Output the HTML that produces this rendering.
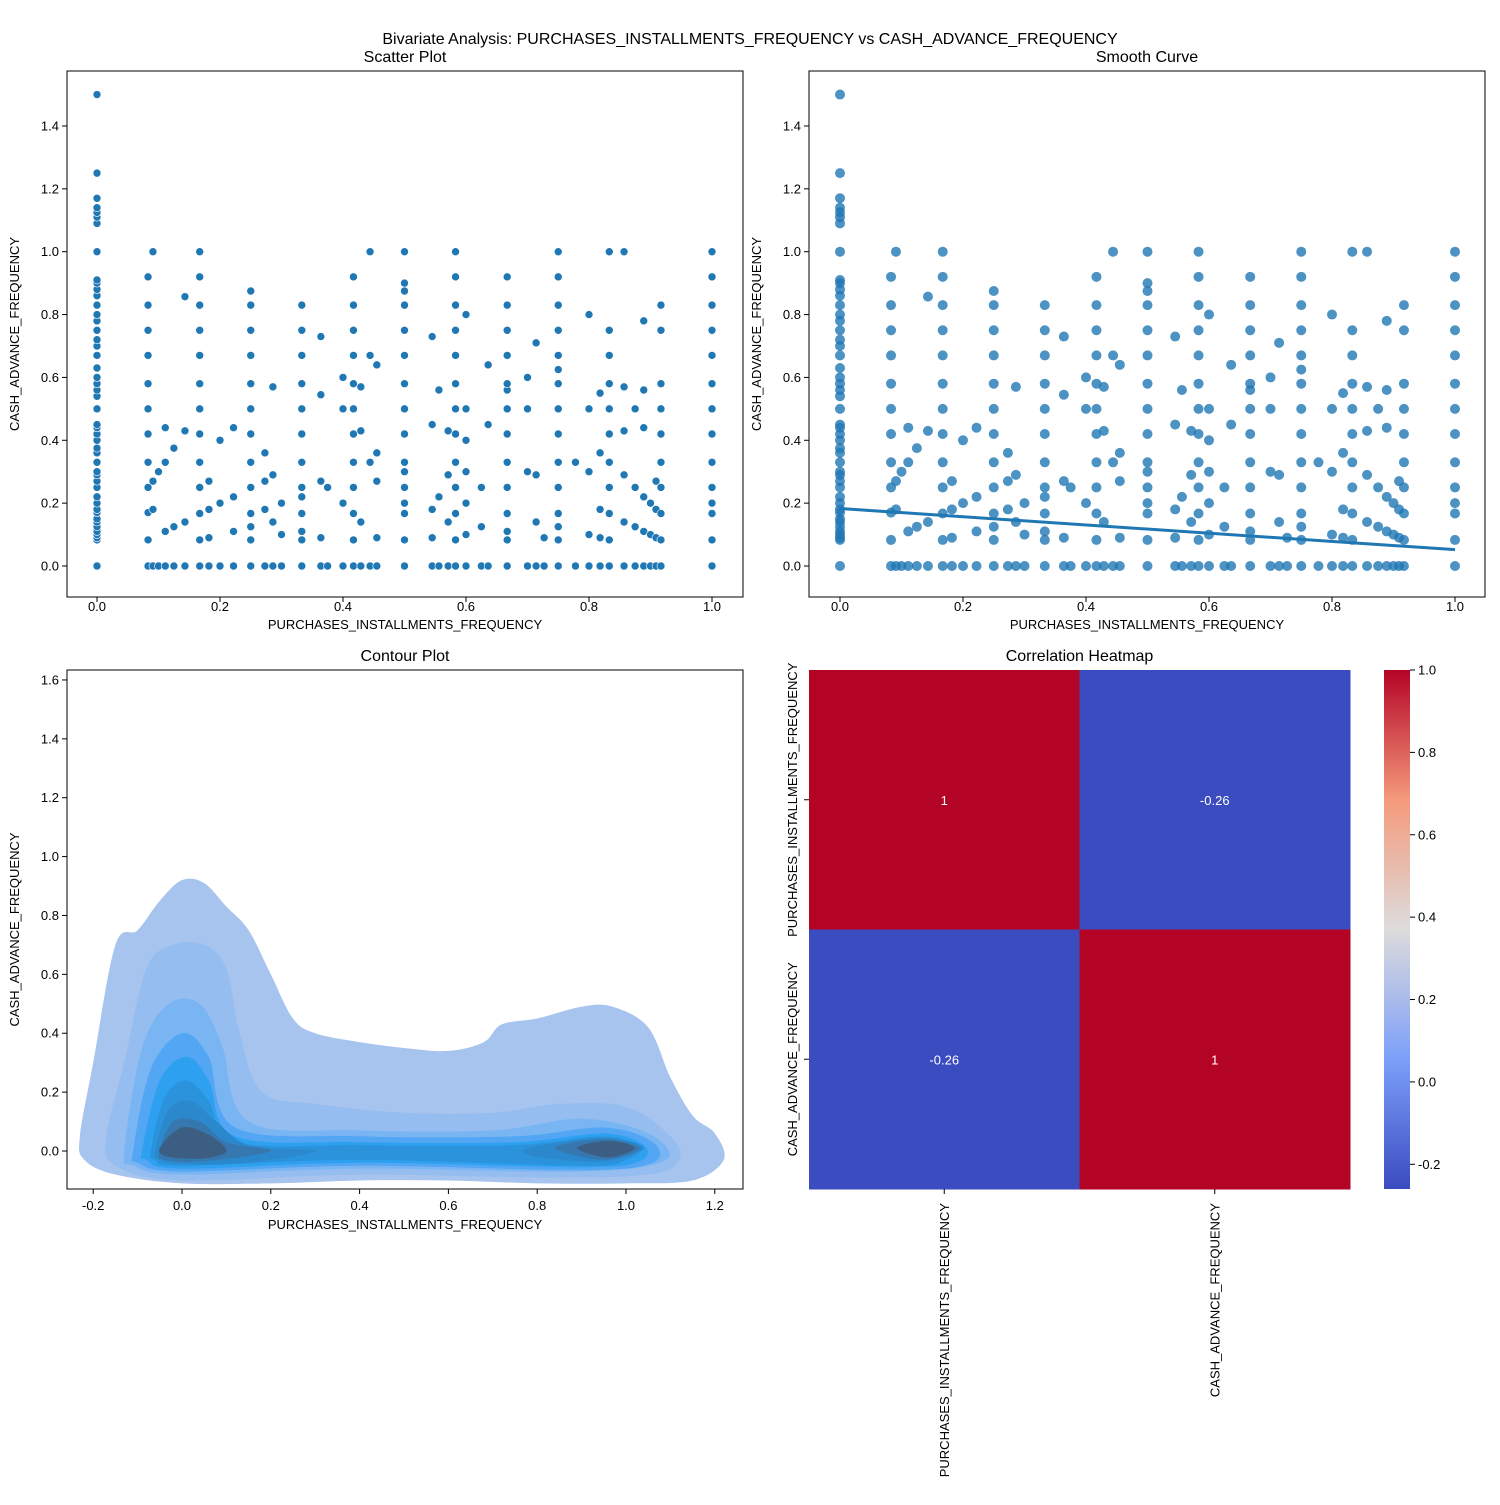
<!DOCTYPE html>
<html><head><meta charset="utf-8"><style>
body{margin:0;background:#fff}
svg text{font-family:"Liberation Sans","DejaVu Sans",sans-serif;fill:#000}
</style></head><body>
<svg id="chart" width="1500" height="1500" viewBox="0 0 1500 1500" xmlns="http://www.w3.org/2000/svg">
<rect width="1500" height="1500" fill="#fff"/>
<text x="750" y="44" font-size="16" text-anchor="middle">Bivariate Analysis: PURCHASES_INSTALLMENTS_FREQUENCY vs CASH_ADVANCE_FREQUENCY</text>
<g id="p1"></g>
<g id="p2"></g>
<g id="p3"></g>
<g id="p4"></g>
</svg>
<script>
const colX=[0,0.083,0.091,0.1,0.111,0.125,0.143,0.167,0.182,0.2,0.222,0.25,0.273,0.286,0.3,0.333,0.364,0.375,0.4,0.417,0.429,0.444,0.455,0.5,0.545,0.556,0.571,0.583,0.6,0.625,0.636,0.667,0.7,0.714,0.727,0.75,0.778,0.8,0.818,0.833,0.857,0.875,0.889,0.9,0.909,0.917,1.0];
const colY=[
[0,0.083,0.09,0.1,0.11,0.125,0.14,0.15,0.17,0.18,0.2,0.22,0.25,0.27,0.29,0.3,0.33,0.36,0.375,0.4,0.42,0.44,0.45,0.5,0.54,0.56,0.58,0.6,0.63,0.67,0.7,0.72,0.75,0.78,0.8,0.83,0.86,0.88,0.9,0.91,1.0,1.09,1.11,1.125,1.14,1.17,1.25,1.5],
[0,0.083,0.17,0.25,0.33,0.42,0.5,0.58,0.67,0.75,0.83,0.92],
[0,0.18,0.27,1.0],[0,0.3],[0,0.11,0.33,0.44],[0,0.125,0.375],[0,0.14,0.43,0.857],
[0,0.083,0.167,0.25,0.33,0.42,0.5,0.58,0.67,0.75,0.83,0.92,1.0],
[0,0.09,0.18,0.27],[0,0.2,0.4],[0,0.11,0.22,0.44],
[0,0.083,0.125,0.167,0.25,0.33,0.42,0.5,0.58,0.67,0.75,0.83,0.875],
[0,0.18,0.27,0.36],[0,0.14,0.29,0.57],[0,0.1,0.2],
[0,0.083,0.11,0.167,0.22,0.25,0.33,0.42,0.5,0.58,0.67,0.75,0.83],
[0,0.09,0.27,0.545,0.73],[0,0.25],[0,0.2,0.5,0.6],
[0,0.083,0.167,0.25,0.33,0.42,0.5,0.58,0.67,0.75,0.83,0.92],
[0,0.14,0.43,0.57],[0,0.33,0.67,1.0],[0,0.09,0.27,0.36,0.64],
[0,0.083,0.167,0.2,0.25,0.3,0.33,0.42,0.5,0.58,0.67,0.75,0.83,0.875,0.9,1.0],
[0,0.09,0.18,0.45,0.73],[0,0.22,0.56],[0,0.14,0.29,0.43],
[0,0.083,0.167,0.25,0.33,0.42,0.5,0.58,0.67,0.75,0.83,0.92,1.0],
[0,0.1,0.2,0.3,0.4,0.5,0.8],[0,0.125,0.25],[0,0.45,0.64],
[0,0.083,0.11,0.167,0.25,0.33,0.42,0.5,0.56,0.58,0.67,0.75,0.83,0.92],
[0,0.3,0.5,0.6],[0,0.14,0.29,0.71],[0,0.09],
[0,0.083,0.125,0.167,0.25,0.33,0.42,0.5,0.58,0.625,0.67,0.75,0.83,0.92,1.0],
[0,0.33],[0,0.1,0.3,0.5,0.8],[0,0.09,0.18,0.36,0.55],
[0,0.083,0.167,0.25,0.33,0.42,0.5,0.58,0.67,0.75,1.0],
[0,0.14,0.29,0.43,0.57,1.0],[0,0.125,0.25,0.5],[0,0.11,0.22,0.44,0.56,0.78],
[0,0.1,0.2],[0,0.09,0.18,0.27],
[0,0.083,0.167,0.25,0.33,0.42,0.5,0.58,0.75,0.83],
[0,0.083,0.167,0.2,0.25,0.33,0.42,0.5,0.58,0.67,0.75,0.83,0.92,1.0]];
const regX=[0,1];
const regY=[0.183,0.052];
const scatterXTicks=[0,0.2,0.4,0.6,0.8,1.0];
const scatterYTicks=[0,0.2,0.4,0.6,0.8,1.0,1.2,1.4];
const contourXTicks=[-0.2,0,0.2,0.4,0.6,0.8,1.0,1.2];
const contourYTicks=[0,0.2,0.4,0.6,0.8,1.0,1.2,1.4,1.6];
const contourColors=["#a6c4ee","#95bdf0","#7ab5f3","#52a6f3","#2ea0f0","#2b93dc","#2c88cc","#3577ae","#3c5e82"];
const contourLevels=[
[[[-0.23,0.05],[-0.2,0.3],[-0.15,0.7],[-0.1,0.75],[-0.05,0.85],[0,0.92],[0.05,0.91],[0.1,0.83],[0.15,0.75],[0.2,0.6],[0.25,0.45],[0.3,0.4],[0.4,0.37],[0.5,0.35],[0.6,0.34],[0.68,0.37],[0.72,0.43],[0.8,0.45],[0.9,0.49],[0.97,0.49],[1.05,0.42],[1.1,0.25],[1.15,0.12],[1.2,0.06],[1.22,-0.03],[1.15,-0.1],[1.0,-0.11],[0.8,-0.11],[0.6,-0.1],[0.4,-0.1],[0.2,-0.11],[0,-0.11],[-0.15,-0.08],[-0.22,-0.03]]],
[[[-0.17,0.05],[-0.13,0.3],[-0.08,0.62],[-0.02,0.7],[0.05,0.7],[0.1,0.62],[0.13,0.4],[0.18,0.2],[0.3,0.16],[0.5,0.13],[0.7,0.13],[0.85,0.16],[1.0,0.15],[1.1,0.05],[1.12,-0.03],[1.05,-0.08],[0.8,-0.09],[0.4,-0.08],[0,-0.1],[-0.15,-0.05]]],
[[[-0.13,0.0],[-0.09,0.35],[-0.03,0.5],[0.04,0.5],[0.09,0.36],[0.15,0.1],[0.4,0.07],[0.7,0.07],[0.9,0.11],[1.05,0.06],[1.09,-0.03],[0.9,-0.07],[0.4,-0.06],[0,-0.08],[-0.11,-0.05]]],
[[[-0.11,0.0],[-0.07,0.28],[0,0.4],[0.06,0.32],[0.12,0.08],[0.4,0.05],[0.75,0.05],[0.95,0.08],[1.06,0.03],[1.06,-0.04],[0.9,-0.065],[0.4,-0.05],[0,-0.07],[-0.1,-0.04]]],
[[[-0.09,0.0],[-0.05,0.24],[0.01,0.32],[0.06,0.24],[0.12,0.05],[0.4,0.03],[0.75,0.03],[0.95,0.06],[1.04,0.02],[1.03,-0.035],[0.9,-0.055],[0.4,-0.04],[0,-0.06],[-0.08,-0.03]]],
[[[-0.07,0.0],[-0.04,0.18],[0.01,0.24],[0.06,0.17],[0.12,0.03],[0.4,0.02],[0.75,0.02],[0.95,0.05],[1.03,0.01],[1.0,-0.03],[0.9,-0.05],[0.4,-0.03],[0,-0.05],[-0.06,-0.03]]],
[[[-0.06,0.0],[-0.03,0.14],[0.02,0.17],[0.07,0.11],[0.15,0.02],[0.3,0.0],[0.15,-0.04],[0.0,-0.045],[-0.05,-0.03]],[[0.78,0.01],[0.95,0.045],[1.04,0.01],[0.95,-0.035],[0.8,-0.02]]],
[[[-0.05,0.0],[-0.02,0.1],[0.04,0.1],[0.1,0.03],[0.2,0.0],[0.05,-0.035],[-0.04,-0.03]],[[0.84,0.01],[0.95,0.04],[1.03,0.01],[0.95,-0.03]]],
[[[-0.05,0.01],[0,0.08],[0.06,0.055],[0.1,0.0],[0.05,-0.025],[-0.03,-0.02]],[[0.89,0.01],[0.96,0.035],[1.02,0.01],[0.96,-0.022]]]];
const hmLabels=["PURCHASES_INSTALLMENTS_FREQUENCY","CASH_ADVANCE_FREQUENCY"];
const hmValues=[[1,-0.26],[-0.26,1]];
const cbTicks=[-0.2,0,0.2,0.4,0.6,0.8,1.0];

const NS="http://www.w3.org/2000/svg";
function mk(p,tag,at,txt){const e=document.createElementNS(NS,tag);for(const k in at)e.setAttribute(k,at[k]);if(txt!==undefined)e.textContent=txt;p.appendChild(e);return e;}
function fmt(v){return v.toFixed(1);}

function axesFrame(g,L,T,R,B,sx,sy,xt,yt,xlab,ylab,title,tickOff,titleOff){
  const fr=mk(g,'rect',{x:L,y:T,width:R-L,height:B-T,fill:'none',stroke:'#000','stroke-width':1});
  
  
  xt.forEach(v=>{const x=sx(v);mk(g,'line',{x1:x,y1:B,x2:x,y2:B+5,stroke:'#000'});
    const t=mk(g,'text',{x:x,y:B+tickOff,'font-size':13,'text-anchor':'middle'},fmt(v));
    
    });
  yt.forEach(v=>{const y=sy(v);mk(g,'line',{x1:L-5,y1:y,x2:L,y2:y,stroke:'#000'});
    const t=mk(g,'text',{x:L-8,y:y+4.5,'font-size':13,'text-anchor':'end'},fmt(v));
    
    });
  const xl=mk(g,'text',{x:(L+R)/2,y:B+titleOff,'font-size':13,'text-anchor':'middle'},xlab);
  
  
  const yl=mk(g,'text',{x:0,y:0,'font-size':13,'text-anchor':'middle',transform:`translate(${L-48},${(T+B)/2}) rotate(-90)`},ylab);
  
  
  const ti=mk(g,'text',{x:(L+R)/2,y:T-9,'font-size':16,'text-anchor':'middle'},title);
  
  
}
const XL="PURCHASES_INSTALLMENTS_FREQUENCY",YL="CASH_ADVANCE_FREQUENCY";

(function(){const g=document.getElementById('p1');
 const sx=v=>97+v*615, sy=v=>566-v*314.3;
 colX.forEach((x,i)=>colY[i].forEach(y=>{const c=mk(g,'circle',{cx:sx(x),cy:sy(y),r:4,fill:'#1f77b4',stroke:'#fff','stroke-width':0.6});
   
   }));
 axesFrame(g,67,71,743,597,sx,sy,scatterXTicks,scatterYTicks,XL,YL,"Scatter Plot",14,32);
})();
(function(){const g=document.getElementById('p2');
 const sx=v=>840+v*615, sy=v=>566-v*314.3;
 colX.forEach((x,i)=>colY[i].forEach(y=>{const c=mk(g,'circle',{cx:sx(x),cy:sy(y),r:5,fill:'#1f77b4','fill-opacity':0.8});
   
   }));
 const l=mk(g,'line',{x1:sx(regX[0]),y1:sy(regY[0]),x2:sx(regX[1]),y2:sy(regY[1]),stroke:'#1f77b4','stroke-width':3});
 
 
 axesFrame(g,809,71,1485,597,sx,sy,scatterXTicks,scatterYTicks,XL,YL,"Smooth Curve",14,32);
})();
(function(){const g=document.getElementById('p3');
 const sx=v=>182+v*444, sy=v=>1151-v*294.4;
 function path(pts){const P=pts.map(p=>[sx(p[0]),sy(p[1])]);const n=P.length;let d=`M${P[0][0]},${P[0][1]}`;
  for(let i=0;i<n;i++){const p0=P[(i-1+n)%n],p1=P[i],p2=P[(i+1)%n],p3=P[(i+2)%n];
   d+=`C${p1[0]+(p2[0]-p0[0])/6},${p1[1]+(p2[1]-p0[1])/6} ${p2[0]-(p3[0]-p1[0])/6},${p2[1]-(p3[1]-p1[1])/6} ${p2[0]},${p2[1]}`;}
  return d+'Z';}
 contourLevels.forEach((lev,i)=>lev.forEach(poly=>{const p=mk(g,'path',{d:path(poly),fill:contourColors[i]});
   
   }));
 axesFrame(g,67,670,743,1189,sx,sy,contourXTicks,contourYTicks,XL,YL,"Contour Plot",21,40);
})();
(function(){const g=document.getElementById('p4');
 const vmin=-0.26,vmax=1;
 const stops=[[0,[59,76,192]],[0.25,[124,159,249]],[0.5,[221,220,220]],[0.75,[244,154,123]],[1,[180,4,38]]];
 function col(v){let t=(v-vmin)/(vmax-vmin);t=Math.max(0,Math.min(1,t));
  for(let i=0;i<stops.length-1;i++){const a=stops[i],b=stops[i+1];if(t<=b[0]){const f=(t-a[0])/(b[0]-a[0]);
   return `rgb(${a[1].map((c,k)=>Math.round(c+(b[1][k]-c)*f)).join(',')})`;}}return 'rgb(180,4,38)';}
 const L=809,T=670,W=541,H=519,cw=W/2,ch=H/2;
 hmValues.forEach((row,r)=>row.forEach((v,c)=>{const rc=mk(g,'rect',{x:L+c*cw,y:T+r*ch,width:cw+0.5,height:ch+0.5,fill:col(v)});
   
   
   const t=mk(g,'text',{x:L+c*cw+cw/2,y:T+r*ch+ch/2+5,'font-size':13,'text-anchor':'middle',style:'fill:#fff'},v===1?'1':v.toFixed(2));
   
   }));
 hmLabels.forEach((lab,i)=>{const y=T+i*ch+ch/2;mk(g,'line',{x1:L-5,y1:y,x2:L,y2:y,stroke:'#000'});
  const t=mk(g,'text',{x:0,y:0,'font-size':13,'text-anchor':'middle',transform:`translate(${L-12},${y}) rotate(-90)`},lab);
  
  
  const x=L+i*cw+cw/2;mk(g,'line',{x1:x,y1:T+H,x2:x,y2:T+H+5,stroke:'#000'});
  const t2=mk(g,'text',{x:0,y:0,'font-size':13,'text-anchor':'end',transform:`translate(${x+4.5},${T+H+14}) rotate(-90)`},lab);
  
  });
 const CL=1384,CW=26,CT=670,CB=1189;
 const defs=mk(g,'defs',{});const lg=mk(defs,'linearGradient',{id:'cbg',x1:0,y1:1,x2:0,y2:0});
 stops.forEach(s=>mk(lg,'stop',{offset:s[0],'stop-color':`rgb(${s[1].join(',')})`}));
 const cb=mk(g,'rect',{x:CL,y:CT,width:CW,height:CB-CT,fill:'url(#cbg)'});
 
 
 const cy=v=>CB-(v-vmin)/(vmax-vmin)*(CB-CT);
 cbTicks.forEach(v=>{const y=cy(v);mk(g,'line',{x1:CL+CW,y1:y,x2:CL+CW+5,y2:y,stroke:'#000'});
  const t=mk(g,'text',{x:CL+CW+8,y:y+4.5,'font-size':13},fmt(v));
  
  });
 const ti=mk(g,'text',{x:L+W/2,y:T-9,'font-size':16,'text-anchor':'middle'},"Correlation Heatmap");
 
 
})();
</script>
</body></html>
